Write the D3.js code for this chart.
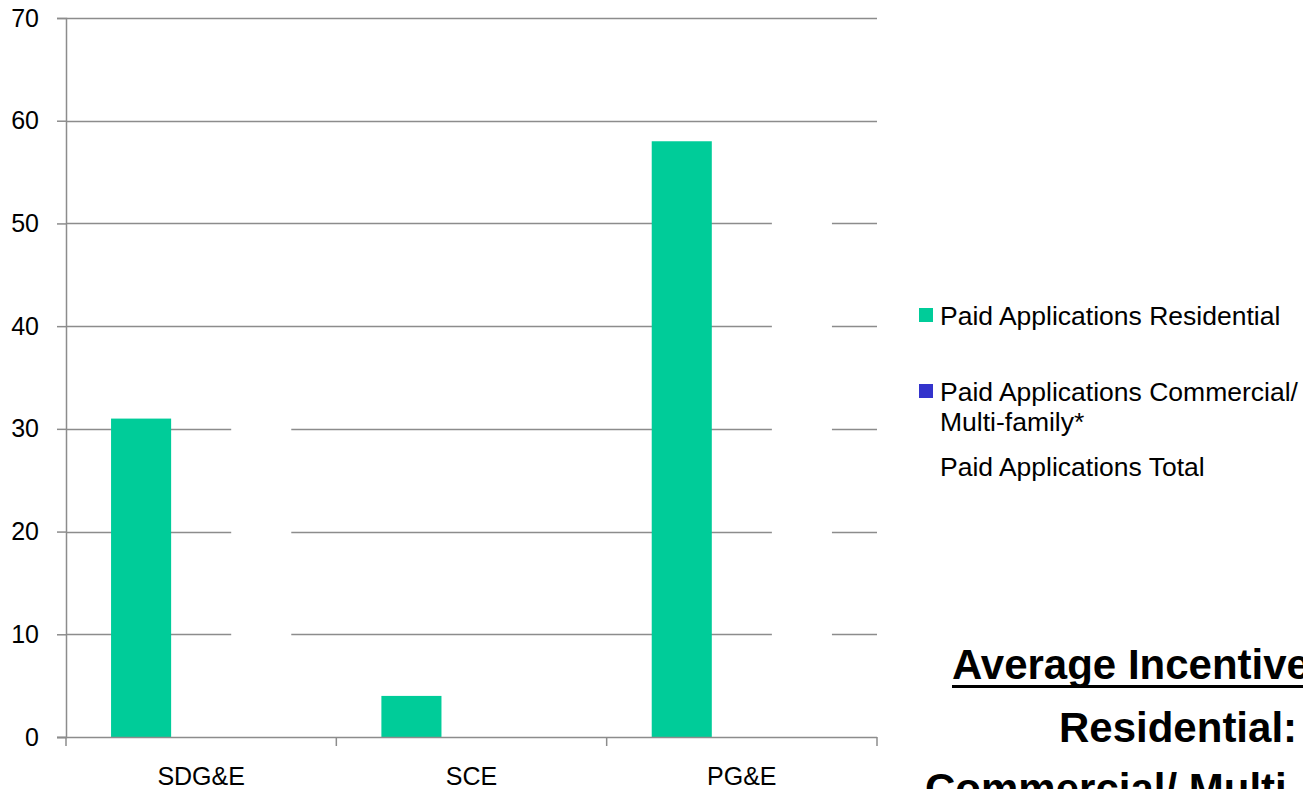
<!DOCTYPE html>
<html>
<head>
<meta charset="utf-8">
<script src="https://cdn.jsdelivr.net/npm/d3@7"></script>
<style>
  html, body { margin: 0; padding: 0; background: #fff; }
  svg { display: block; font-family: Arial, "Liberation Sans", sans-serif; }
</style>
</head>
<body>
<svg id="chart" width="1303" height="789"></svg>
<script>
// ---- data ----
const categories = ["SDG&E", "SCE", "PG&E"];
const seriesNames = ["Paid Applications Residential", "Paid Applications Commercial/ Multi-family*", "Paid Applications Total"];
const residential = [31, 4, 58];
const commercial = [0, 0, 0];
const total = [31, 4, 58];
const yTicks = [0, 10, 20, 30, 40, 50, 60, 70];
const seriesColors = ["#00CC99", "#3333CC", "#FFFFFF"];

const seriesValues = [residential, commercial, total];

(function () {
const svg = d3.select("#chart");
const mLeft = 66, mRight = 877, mTop = 18, mBottom = 737;

const y = d3.scaleLinear().domain([0, 70]).range([mBottom, mTop]);
const x0 = d3.scaleBand().domain(categories).range([mLeft, mRight]).padding(0);
const x1 = d3.scaleBand().domain(d3.range(seriesNames.length)).range([0, x0.bandwidth()])
  .paddingInner(0).paddingOuter(0.75);

const axisColor = "#8c8c8c";

// gridlines
svg.append("g").selectAll("line").data(yTicks.filter(t => t > 0)).join("line")
  .attr("x1", mLeft).attr("x2", mRight)
  .attr("y1", d => Math.round(y(d)) + 0.5).attr("y2", d => Math.round(y(d)) + 0.5)
  .attr("stroke", axisColor).attr("stroke-width", 1.5);

// bars
const groups = svg.append("g").selectAll("g").data(categories).join("g")
  .attr("transform", d => `translate(${x0(d)},0)`);
groups.selectAll("rect")
  .data((c, ci) => seriesValues.map((vals, si) => ({ si, v: vals[ci] })))
  .join("rect")
  .attr("x", d => x1(d.si))
  .attr("width", x1.bandwidth())
  .attr("y", d => y(d.v))
  .attr("height", d => y(0) - y(d.v))
  .attr("fill", d => seriesColors[d.si]);

// y axis
const yAxis = d3.axisLeft(y).tickValues(yTicks).tickSize(9).tickPadding(18).tickFormat(d3.format("d"));
const gy = svg.append("g").attr("transform", `translate(${mLeft},0)`).call(yAxis);
gy.select(".domain").attr("stroke", axisColor).attr("stroke-width", 1.5);
gy.selectAll(".tick line").attr("stroke", axisColor).attr("stroke-width", 1.5);
gy.selectAll(".tick text").attr("font-size", 25).attr("fill", "#000")
  .attr("font-family", "Arial, 'Liberation Sans', sans-serif");

// x axis
const gx = svg.append("g").attr("transform", `translate(0,${mBottom})`);
gx.append("line").attr("x1", mLeft - 9).attr("x2", mRight).attr("y1", 0.5).attr("y2", 0.5)
  .attr("stroke", axisColor).attr("stroke-width", 1.5);
const boundaries = [mLeft].concat(categories.map(c => x0(c) + x0.bandwidth()));
gx.selectAll("line.tk").data(boundaries).join("line").attr("class", "tk")
  .attr("x1", d => d).attr("x2", d => d).attr("y1", 0).attr("y2", 9)
  .attr("stroke", axisColor).attr("stroke-width", 1.5);
gx.selectAll("text").data(categories).join("text")
  .attr("x", d => x0(d) + x0.bandwidth() / 2)
  .attr("y", 48)
  .attr("text-anchor", "middle")
  .attr("font-size", 25)
  .attr("fill", "#000")
  .text(d => d);

// legend
const legend = svg.append("g");
const legendItems = [
  { si: 0, lines: ["Paid Applications Residential"], y: 325 },
  { si: 1, lines: ["Paid Applications Commercial/", "Multi-family*"], y: 401 },
  { si: 2, lines: ["Paid Applications Total"], y: 476 }
];
legendItems.forEach(item => {
  if (item.si !== 2) {
    legend.append("rect").attr("x", 919).attr("y", item.y - 17).attr("width", 14).attr("height", 14)
      .attr("fill", seriesColors[item.si]);
  }
  const t = legend.append("text").attr("x", 940).attr("y", item.y).attr("font-size", 26.5).attr("fill", "#000");
  item.lines.forEach((ln, i) => {
    t.append("tspan").attr("x", 940).attr("dy", i === 0 ? 0 : 30).text(ln);
  });
});

// annotation text box (clipped by the picture edge, as in the reference)
const note = svg.append("g").attr("font-weight", "bold").attr("font-size", 42).attr("fill", "#000");
note.append("text").attr("x", 952).attr("y", 679).text("Average Incentive");
note.append("line").attr("x1", 952).attr("x2", 1303).attr("y1", 686.5).attr("y2", 686.5)
  .attr("stroke", "#000").attr("stroke-width", 3);
note.append("text").attr("x", 1059).attr("y", 742).text("Residential:");
note.append("text").attr("x", 925).attr("y", 803).text("Commercial/ Multi-");
})();
</script>
</body>
</html>
